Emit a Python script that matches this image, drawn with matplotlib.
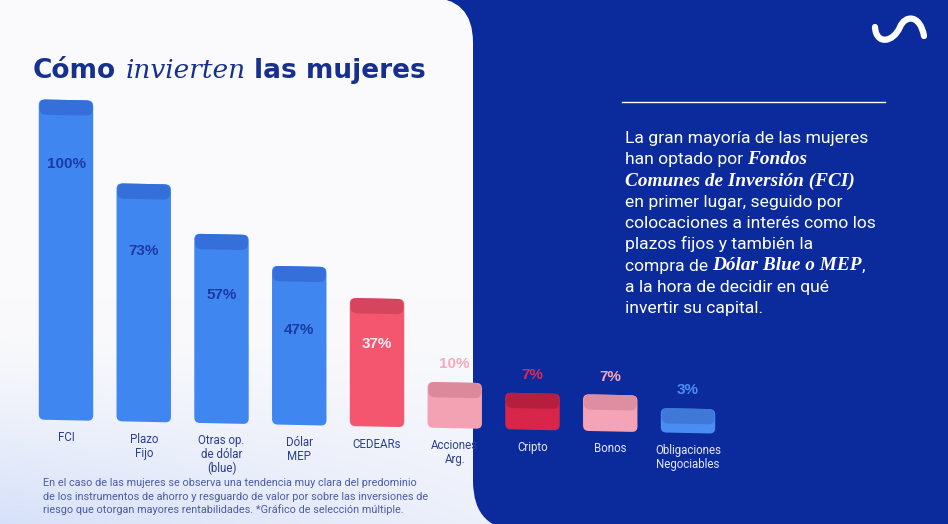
import numpy as np
import matplotlib
matplotlib.use("Agg")
import matplotlib.pyplot as plt
import matplotlib.transforms as mtransforms
from matplotlib.patches import FancyBboxPatch, PathPatch
from matplotlib.path import Path

W, H = 948, 524

# data
categories = ["FCI", "Plazo\nFijo", "Otras op.\nde dólar\n(blue)", "Dólar\nMEP", "CEDEARs",
              "Acciones\nArg.", "Cripto", "Bonos", "Obligaciones\nNegociables"]
values = [100, 73, 57, 47, 37, 10, 7, 7, 3]
value_labels = ["100%", "73%", "57%", "47%", "37%", "10%", "7%", "7%", "3%"]

title_runs = [("Cómo ", "sans"), ("invierten", "serif"), (" las mujeres", "sans")]
body_lines = [
    [("La gran mayoría de las mujeres", "r")],
    [("han optado por ", "r"), ("Fondos", "b")],
    [("Comunes de Inversión (FCI)", "b")],
    [("en primer lugar, seguido por", "r")],
    [("colocaciones a interés como los", "r")],
    [("plazos fijos y también la", "r")],
    [("compra de ", "r"), ("Dólar Blue o MEP", "b"), (",", "r")],
    [("a la hora de decidir en qué", "r")],
    [("invertir su capital.", "r")],
]
footer_lines = [
    "En el caso de las mujeres se observa una tendencia muy clara del predominio",
    "de los instrumentos de ahorro y resguardo de valor por sobre las inversiones de",
    "riesgo que otorgan mayores rentabilidades. *Gráfico de selección múltiple.",
]

# styles
NAVY = "#0b2a9c"
bar_colors = ["#3f86f0", "#3f86f0", "#3f86f0", "#3f86f0", "#f4566f",
              "#f3a2b3", "#d8264a", "#f5a4b7", "#4a8cf2"]
cap_colors = ["#3570da", "#3570da", "#3570da", "#3570da", "#d5455e",
              "#dc8a9b", "#b61e3e", "#de8ea1", "#3e79da"]
label_colors = ["#1b3aa6", "#1b3aa6", "#1b3aa6", "#1b3aa6", "#ffeef1",
                "#f6aabb", "#dc2a55", "#f4a8bd", "#4d8ef5"]
label_dy = [-21, -22, -20, -21, -15, 6, 6, 6, 6]
tick_colors = ["#2c3f93"] * 6 + ["#e4e8ff"] * 3

fig = plt.figure(figsize=(W / 100, H / 100), dpi=100, facecolor=NAVY)
renderer = fig.canvas.get_renderer()

bg = fig.add_axes([0, 0, 1, 1], zorder=0)
bg.set_xlim(0, W)
bg.set_ylim(H, 0)
bg.axis("off")

# white panel with rounded top-right corner
panel = FancyBboxPatch((-100, -2.6), 573, 700, boxstyle="round,pad=0,rounding_size=45",
                       fc="#fafafc", ec="none", zorder=1)
bg.add_patch(panel)
# soft blue tint toward the bottom left (lower strip only, blue card covers the right part)
yy, xx = np.mgrid[300:H, 0:540]
t = np.clip((yy - 330) / 194.0, 0, 1) ** 1.2 * (1 - 0.6 * np.clip(xx, 0, 480) / 480.0)
tint = np.array([0.84, 0.88, 0.975])
img = (1 - t[..., None]) * np.array([0.98, 0.98, 0.988]) + t[..., None] * tint
bg.imshow(img, extent=(0, 540, H, 300), aspect="auto", zorder=1.5, interpolation="bilinear")
bg.add_patch(FancyBboxPatch((473, 100), 700, 431, boxstyle="round,pad=0,rounding_size=50",
                            fc=NAVY, ec="none", zorder=1.7))
bg.set_xlim(0, W)
bg.set_ylim(H, 0)

# logo
verts = [(875, 27), (876, 45), (893, 43), (900, 27), (905, 15), (920, 14), (924, 36)]
codes = [Path.MOVETO] + [Path.CURVE4] * 6
bg.add_patch(PathPatch(Path(verts, codes), fc="none", ec="white", lw=4.5,
                       capstyle="round", zorder=3))


def space_w(**kw):
    a = bg.text(0, 0, "x x", **kw)
    b = bg.text(0, 0, "xx", **kw)
    w = a.get_window_extent(renderer).width - b.get_window_extent(renderer).width
    a.remove()
    b.remove()
    return w


def draw_runs(x, y, runs, styles):
    for s, key in runs:
        kw = styles[key]
        sw = space_w(**kw)
        if s.startswith(" "):
            x += sw
        s2 = s.strip()
        tx = bg.text(x, y, s2, va="baseline", ha="left", zorder=4, **kw)
        x += tx.get_window_extent(renderer).width
        if s.endswith(" "):
            x += sw
    return x


# title
title_styles = {
    "sans": dict(family="DejaVu Sans", weight="bold", fontsize=19, color="#16308f"),
    "serif": dict(family="DejaVu Serif", style="italic", fontsize=19, color="#16308f"),
}
draw_runs(33, 78, title_runs, title_styles)

# right paragraph
bg.plot([622, 885], [102, 102], color="white", lw=1.0, zorder=4)
body_styles = {
    "r": dict(family="Roboto", fontsize=12.6, color="white"),
    "b": dict(family="Liberation Serif", style="italic", weight="bold", fontsize=13.9, color="white"),
}
for i, runs in enumerate(body_lines):
    draw_runs(625, 143 + 21.25 * i, runs, body_styles)

# footer
for i, line in enumerate(footer_lines):
    bg.text(43, 486.5 + 13.2 * i, line, va="baseline", ha="left", family="Roboto",
            fontsize=7.8, color="#4b5ca8", zorder=4)

# bars
ax = fig.add_axes([27.125 / W, (H - 434.1) / H, 699.75 / W, 366.0 / H], zorder=1)
ax.set_xlim(-0.5, 8.5)
ax.set_ylim(-10, 110)
ax.axis("off")
ax.patch.set_alpha(0)
skew = ax.transData + mtransforms.Affine2D().skew(0, np.arctan(-0.0206))

x = np.arange(len(values))
bars = ax.bar(x, np.array(values) + 5, bottom=-5, width=0.70)
aspect = (77.75 / 3.05)
for i, rect in enumerate(bars.patches):
    bx, by, bw, bh = rect.get_x(), rect.get_y(), rect.get_width(), rect.get_height()
    rect.set_visible(False)
    body = FancyBboxPatch((bx, by), bw, bh, boxstyle="round,pad=0,rounding_size=0.07",
                          mutation_aspect=aspect, fc=bar_colors[i], ec="none",
                          transform=skew, clip_on=False, zorder=2)
    ax.add_patch(body)
    cap = FancyBboxPatch((bx + 0.01, by + bh - 5), bw - 0.02, 5, boxstyle="round,pad=0,rounding_size=0.08",
                         mutation_aspect=aspect, fc=cap_colors[i], ec="none",
                         transform=skew, clip_on=False, zorder=3)
    ax.add_patch(cap)
    ax.text(x[i], values[i] + label_dy[i], value_labels[i], ha="center", va="center",
            family="Liberation Sans", weight="bold", fontsize=11, color=label_colors[i],
            transform=skew, zorder=5)
    ax.text(x[i], -8.6, categories[i], ha="center", va="top", family="Roboto",
            fontsize=8.3, color=tick_colors[i], linespacing=1.08, transform=skew, zorder=5)

fig.savefig("out.png", dpi=100, facecolor=NAVY)
